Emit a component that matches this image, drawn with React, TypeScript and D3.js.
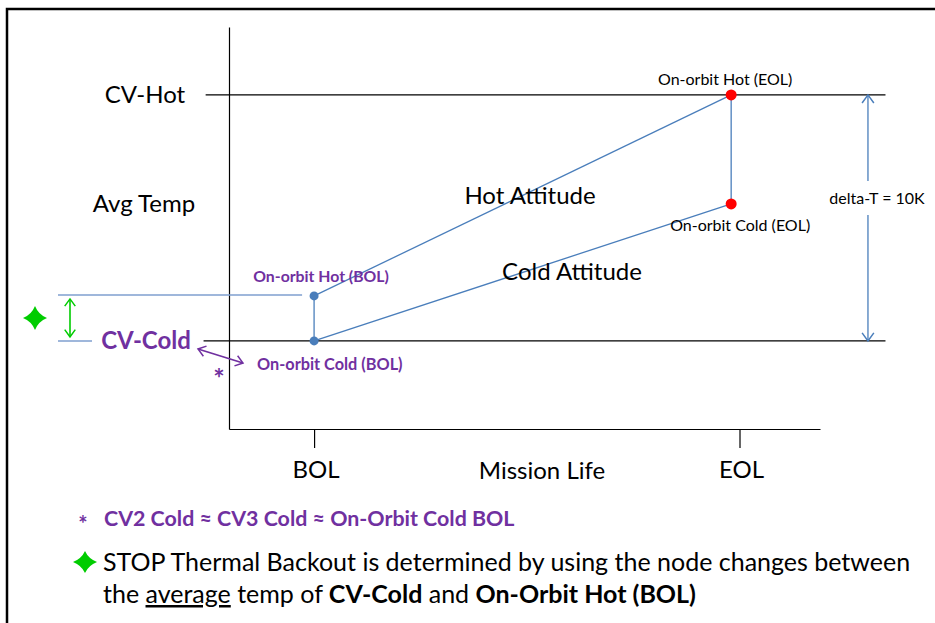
import React, { useEffect, useRef } from "react";
import * as d3 from "d3";

// mission phases along the x axis
const phases = ["BOL", "EOL"];
const phaseLife = [0, 1];
const tickLife = [0, 1.02];
// average temperatures, K above CV-Cold
const hotTemps = [1.83, 10];
const coldTemps = [0, 5.57];
const levelLabels = ["CV-Hot", "CV-Cold"];
const levelTemps = [10, 0];
const deltaT = 10;

const W = 935, H = 623;
const FONT = "Lato, 'Open Sans', sans-serif";
const BLUE = "#4a7ebb";
const LIGHTBLUE = "#7f9fcf";
const PURPLE = "#7030a0";
const GREEN = "#00cc00";

function arrowHead(g: any, x1: number, y1: number, x2: number, y2: number, color: string, len: number) {
  const a = Math.atan2(y2 - y1, x2 - x1);
  const spread = Math.PI / 5;
  const p = d3.path();
  p.moveTo(x2 - len * Math.cos(a - spread), y2 - len * Math.sin(a - spread));
  p.lineTo(x2, y2);
  p.lineTo(x2 - len * Math.cos(a + spread), y2 - len * Math.sin(a + spread));
  g.append("path").attr("d", p.toString()).attr("fill", "none")
    .attr("stroke", color).attr("stroke-width", 1.5);
}

function doubleArrow(g: any, x1: number, y1: number, x2: number, y2: number, color: string, len: number, width: number) {
  g.append("line").attr("x1", x1).attr("y1", y1).attr("x2", x2).attr("y2", y2)
    .attr("stroke", color).attr("stroke-width", width);
  arrowHead(g, x1, y1, x2, y2, color, len);
  arrowHead(g, x2, y2, x1, y1, color, len);
}

function star(g: any, cx: number, cy: number, rx: number, ry: number) {
  const k = 3.4;
  const d = `M${cx},${cy - ry} Q${cx + k},${cy - k} ${cx + rx},${cy} Q${cx + k},${cy + k} ${cx},${cy + ry}` +
    ` Q${cx - k},${cy + k} ${cx - rx},${cy} Q${cx - k},${cy - k} ${cx},${cy - ry}Z`;
  g.append("path").attr("d", d).attr("fill", GREEN);
}

export default function App() {
  const ref = useRef<SVGSVGElement>(null);

  useEffect(() => {
    const svg = d3.select(ref.current);
    svg.selectAll("*").remove();

    const x = d3.scaleLinear().domain([-0.204, 1.213]).range([229, 820]);
    const y = d3.scaleLinear().domain([-3.58, 12.76]).range([429, 27]);

    // frame
    svg.append("rect").attr("x", 7).attr("y", 9).attr("width", W).attr("height", H)
      .attr("fill", "none").attr("stroke", "#000").attr("stroke-width", 2.5);

    // axes
    const xAxis = svg.append("g").attr("transform", `translate(0,${y(-3.58)})`)
      .call(d3.axisBottom(x).tickValues(tickLife).tickSize(19).tickSizeOuter(0).tickFormat(() => ""));
    xAxis.selectAll("path,line").attr("stroke", "#000").attr("stroke-width", 1.2);
    const yAxis = svg.append("g").attr("transform", `translate(${x(-0.204)},0)`)
      .call(d3.axisLeft(y).tickValues([]).tickSizeOuter(0));
    yAxis.selectAll("path").attr("stroke", "#000").attr("stroke-width", 1.2);

    svg.selectAll(".phaseLabel").data(phases).enter().append("text")
      .attr("x", (d, i) => x(tickLife[i]) + 2).attr("y", 478)
      .attr("text-anchor", "middle").attr("font-family", FONT).attr("font-size", 24)
      .attr("fill", "#000").text(d => d);
    svg.append("text").attr("x", 542).attr("y", 479).attr("text-anchor", "middle")
      .attr("font-family", FONT).attr("font-size", 24).text("Mission Life");
    svg.append("text").attr("x", 144).attr("y", 212).attr("text-anchor", "middle")
      .attr("font-family", FONT).attr("font-size", 24).text("Avg Temp");

    // CV levels
    levelTemps.forEach((t, i) => {
      svg.append("line").attr("x1", x(i === 0 ? -0.26 : -0.265)).attr("x2", x(1.37))
        .attr("y1", y(t)).attr("y2", y(t)).attr("stroke", "#000").attr("stroke-width", 1.2);
      svg.append("text").attr("x", i === 0 ? 145 : 146).attr("y", y(t) + 8).attr("text-anchor", "middle")
        .attr("font-family", FONT).attr("font-size", 24)
        .attr("font-weight", i === 1 ? "bold" : "normal")
        .attr("fill", i === 1 ? PURPLE : "#000").text(levelLabels[i]);
    });

    // thermal backout reference lines
    svg.append("line").attr("x1", 58).attr("x2", x(0) - 12).attr("y1", y(hotTemps[0]) - 1).attr("y2", y(hotTemps[0]) - 1)
      .attr("stroke", LIGHTBLUE).attr("stroke-width", 1.5);
    svg.append("line").attr("x1", 58).attr("x2", 92).attr("y1", y(0)).attr("y2", y(0))
      .attr("stroke", LIGHTBLUE).attr("stroke-width", 1.5);
    doubleArrow(svg, 70, y(hotTemps[0]) + 3, 70, y(0) - 4, GREEN, 9, 1.6);
    star(svg, 35, 318, 12, 12);

    // attitude lines
    const line = d3.line<[number, number]>().x(d => x(d[0])).y(d => y(d[1]));
    [hotTemps, coldTemps].forEach(s => {
      svg.append("path").attr("d", line(phaseLife.map((p, i) => [p, s[i]]))!)
        .attr("fill", "none").attr("stroke", BLUE).attr("stroke-width", 1.3);
    });
    phaseLife.forEach((p, i) => {
      svg.append("line").attr("x1", x(p)).attr("x2", x(p)).attr("y1", y(hotTemps[i])).attr("y2", y(coldTemps[i]))
        .attr("stroke", BLUE).attr("stroke-width", 1.3);
    });
    phaseLife.forEach((p, i) => {
      [hotTemps[i], coldTemps[i]].forEach(t => {
        svg.append("circle").attr("cx", x(p)).attr("cy", y(t)).attr("r", i === 0 ? 4.5 : 5.5)
          .attr("fill", i === 0 ? BLUE : "#ff0000");
      });
    });

    svg.append("text").attr("x", 530).attr("y", 204).attr("text-anchor", "middle")
      .attr("font-family", FONT).attr("font-size", 24).text("Hot Attitude");
    svg.append("text").attr("x", 572).attr("y", 280).attr("text-anchor", "middle")
      .attr("font-family", FONT).attr("font-size", 24).text("Cold Attitude");

    // point labels
    const lab = (tx: number, ty: number, s: string, bold: boolean, anchor = "middle", fs = 0) =>
      svg.append("text").attr("x", tx).attr("y", ty).attr("text-anchor", anchor)
        .attr("font-family", FONT).attr("font-size", fs || (bold ? 15.5 : 16))
        .attr("font-weight", bold ? "bold" : "normal")
        .attr("fill", bold ? PURPLE : "#000").text(s);
    lab(x(0) + 7, y(hotTemps[0]) - 14, "On-orbit Hot (BOL)", true, "middle", 15.8);
    lab(257, y(0) + 29, "On-orbit Cold (BOL)", true, "start", 16.3);
    lab(x(1) - 6, y(hotTemps[1]) - 10, "On-orbit Hot (EOL)", false);
    lab(x(1) + 9, y(coldTemps[1]) + 27, "On-orbit Cold (EOL)", false);

    // purple marker arrow
    doubleArrow(svg, 198, 349, 243, 363, PURPLE, 9, 1.8);
    svg.append("text").attr("x", 219).attr("y", 388).attr("text-anchor", "middle")
      .attr("font-family", FONT).attr("font-size", 27).attr("font-weight", "bold")
      .attr("fill", PURPLE).text("*");

    // delta-T dimension
    const dx = x(1.328);
    svg.append("line").attr("x1", dx).attr("x2", dx).attr("y1", y(deltaT)).attr("y2", 181)
      .attr("stroke", BLUE).attr("stroke-width", 1.3);
    svg.append("line").attr("x1", dx).attr("x2", dx).attr("y1", 215).attr("y2", y(0))
      .attr("stroke", BLUE).attr("stroke-width", 1.3);
    arrowHead(svg, dx, 181, dx, y(deltaT), BLUE, 10);
    arrowHead(svg, dx, 215, dx, y(0), BLUE, 10);
    svg.append("text").attr("x", 877).attr("y", 204).attr("text-anchor", "middle")
      .attr("font-family", FONT).attr("font-size", 16).text(`delta-T = ${deltaT}K`);

    // notes
    svg.append("text").attr("x", 83).attr("y", 532).attr("text-anchor", "middle")
      .attr("font-family", FONT).attr("font-size", 22).attr("font-weight", "bold")
      .attr("fill", PURPLE).text("*");
    svg.append("text").attr("x", 104).attr("y", 526)
      .attr("font-family", FONT).attr("font-size", 21.4).attr("font-weight", "bold")
      .attr("fill", PURPLE).text("CV2 Cold \u2248 CV3 Cold \u2248 On-Orbit Cold BOL");
    star(svg, 85, 562, 12, 11);
    svg.append("text").attr("x", 103).attr("y", 571)
      .attr("font-family", FONT).attr("font-size", 25)
      .text("STOP Thermal Backout is determined by using the node changes between");
    const t2 = svg.append("text").attr("x", 103).attr("y", 603)
      .attr("font-family", FONT).attr("font-size", 25);
    t2.append("tspan").text("the ");
    t2.append("tspan").attr("text-decoration", "underline").text("average");
    t2.append("tspan").text(" temp of ");
    t2.append("tspan").attr("font-weight", "bold").text("CV-Cold");
    t2.append("tspan").text(" and ");
    t2.append("tspan").attr("font-weight", "bold").text("On-Orbit Hot (BOL)");
  }, []);

  return (
    <svg ref={ref} width={W} height={H}
      style={{ position: "absolute", left: 0, top: 0, background: "#fff" }} />
  );
}
